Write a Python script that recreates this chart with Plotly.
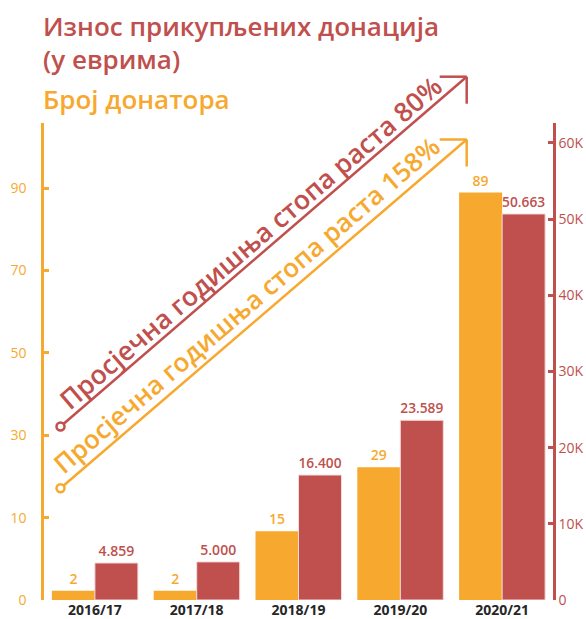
import plotly.graph_objects as go

# ---- data ----
seasons = ["2016/17", "2017/18", "2018/19", "2019/20", "2020/21"]
donors = [2, 2, 15, 29, 89]
amount_eur = [4859, 5000, 16400, 23589, 50663]

left_tickvals = [0, 18, 36, 54, 72, 90]
left_ticktext = ["0", "10", "30", "50", "70", "90"]
right_tickvals = [0, 10000, 20000, 30000, 40000, 50000, 60000]
right_ticktext = ["0", "10K", "20K", "30K", "40K", "50K", "60K"]

title_lines = ["Износ прикупљених донација", "(у еврима)"]
title_donors = "Број донатора"
growth_amount = "Просјечна годишња стопа раста 80%"
growth_donors = "Просјечна годишња стопа раста 158%"

# ---- style ----
ORANGE = "#F7A92F"
RED = "#C0504D"
DARK = "#262626"
FONT = "Open Sans"

W, H = 586, 619
ML, MR, MT, MB = 44, 33, 123, 19
PW, PH = W - ML - MR, H - MT - MB


def px(x):
    return (x - ML) / PW


def py(y):
    return (H - MB - y) / PH


fig = go.Figure()
fig.add_trace(go.Bar(
    x=seasons, y=donors, name="Број донатора", yaxis="y",
    marker=dict(color=ORANGE, line=dict(width=0)),
    offsetgroup="a", text=donors, textposition="outside",
    textfont=dict(color=ORANGE, size=14, family=FONT, weight=600),
    cliponaxis=False,
))
fig.add_trace(go.Bar(
    x=seasons, y=amount_eur, name="Износ", yaxis="y2",
    marker=dict(color=RED, line=dict(width=1, color="#F2DCDB")),
    offsetgroup="b", texttemplate="%{y:,}", textposition="outside",
    textfont=dict(color=RED, size=14, family=FONT, weight=600),
    cliponaxis=False,
))

fig.update_layout(
    width=W, height=H,
    margin=dict(l=ML, r=MR, t=MT, b=MB, autoexpand=False),
    paper_bgcolor="white", plot_bgcolor="white",
    showlegend=False,
    separators=",.",
    barmode="group", bargap=0.155, bargroupgap=0,
    font=dict(family=FONT),
    xaxis=dict(
        automargin=False,
        showline=False, showgrid=False, zeroline=False, ticks="",
        tickfont=dict(color=DARK, size=14, family=FONT, weight="bold"),
    ),
    yaxis=dict(
        automargin=False,
        range=[0, 104.2], side="left",
        showline=True, linecolor=ORANGE, linewidth=2.5,
        ticks="inside", ticklen=5, tickwidth=2.5, tickcolor=ORANGE,
        tickvals=left_tickvals, ticktext=left_ticktext,
        tickfont=dict(color=ORANGE, size=14, family=FONT),
        ticklabelstandoff=12,
        showgrid=False, zeroline=False,
    ),
    yaxis2=dict(
        automargin=False,
        range=[0, 62600], side="right", overlaying="y",
        showline=True, linecolor=RED, linewidth=2.5,
        ticks="inside", ticklen=5, tickwidth=2.5, tickcolor=RED,
        tickvals=right_tickvals, ticktext=right_ticktext,
        tickfont=dict(color=RED, size=14, family=FONT),
        showgrid=False, zeroline=False,
    ),
)

# ---- titles ----
ann = []
ann.append(dict(text=title_lines[0], x=px(41), y=py(26), xanchor="left", yanchor="middle",
                font=dict(color=RED, size=26, family=FONT, weight=600)))
ann.append(dict(text=title_lines[1], x=px(41), y=py(59), xanchor="left", yanchor="middle",
                font=dict(color=RED, size=26, family=FONT, weight=600)))
ann.append(dict(text=title_donors, x=px(41), y=py(99), xanchor="left", yanchor="middle",
                font=dict(color=ORANGE, size=26, family=FONT, weight=600)))

# ---- growth arrows ----
ANG = -40.7
ann.append(dict(text=growth_amount, x=px(250), y=py(243), xanchor="center", yanchor="middle",
                textangle=ANG, font=dict(color=RED, size=26.5, family=FONT, weight=600)))
ann.append(dict(text=growth_donors, x=px(246), y=py(305), xanchor="center", yanchor="middle",
                textangle=ANG, font=dict(color=ORANGE, size=26, family=FONT, weight=600)))
for a in ann:
    a.update(xref="paper", yref="paper", showarrow=False)
fig.update_layout(annotations=ann)

shapes = []
for color, (x0, y0), (x1, y1) in [
    (RED, (60.5, 426.5), (466.7, 76.7)),
    (ORANGE, (60.5, 488.3), (466.7, 139.5)),
]:
    line = dict(color=color, width=2.5)
    shapes.append(dict(type="line", xref="paper", yref="paper",
                       x0=px(x0), y0=py(y0), x1=px(x1), y1=py(y1), line=line))
    shapes.append(dict(type="line", xref="paper", yref="paper",
                       x0=px(x1 - 27), y0=py(y1), x1=px(x1), y1=py(y1), line=line))
    shapes.append(dict(type="line", xref="paper", yref="paper",
                       x0=px(x1), y0=py(y1), x1=px(x1), y1=py(y1 + 27), line=line))
    shapes.append(dict(type="circle", xref="paper", yref="paper",
                       xsizemode="pixel", ysizemode="pixel",
                       xanchor=px(x0), yanchor=py(y0), x0=-4, x1=4, y0=-4, y1=4,
                       fillcolor="white", line=line))
fig.update_layout(shapes=shapes)

fig.write_html(
    "out.html",
    config={"displayModeBar": False},
    post_script="document.body.style.margin='0';document.body.style.padding='0';",
)
